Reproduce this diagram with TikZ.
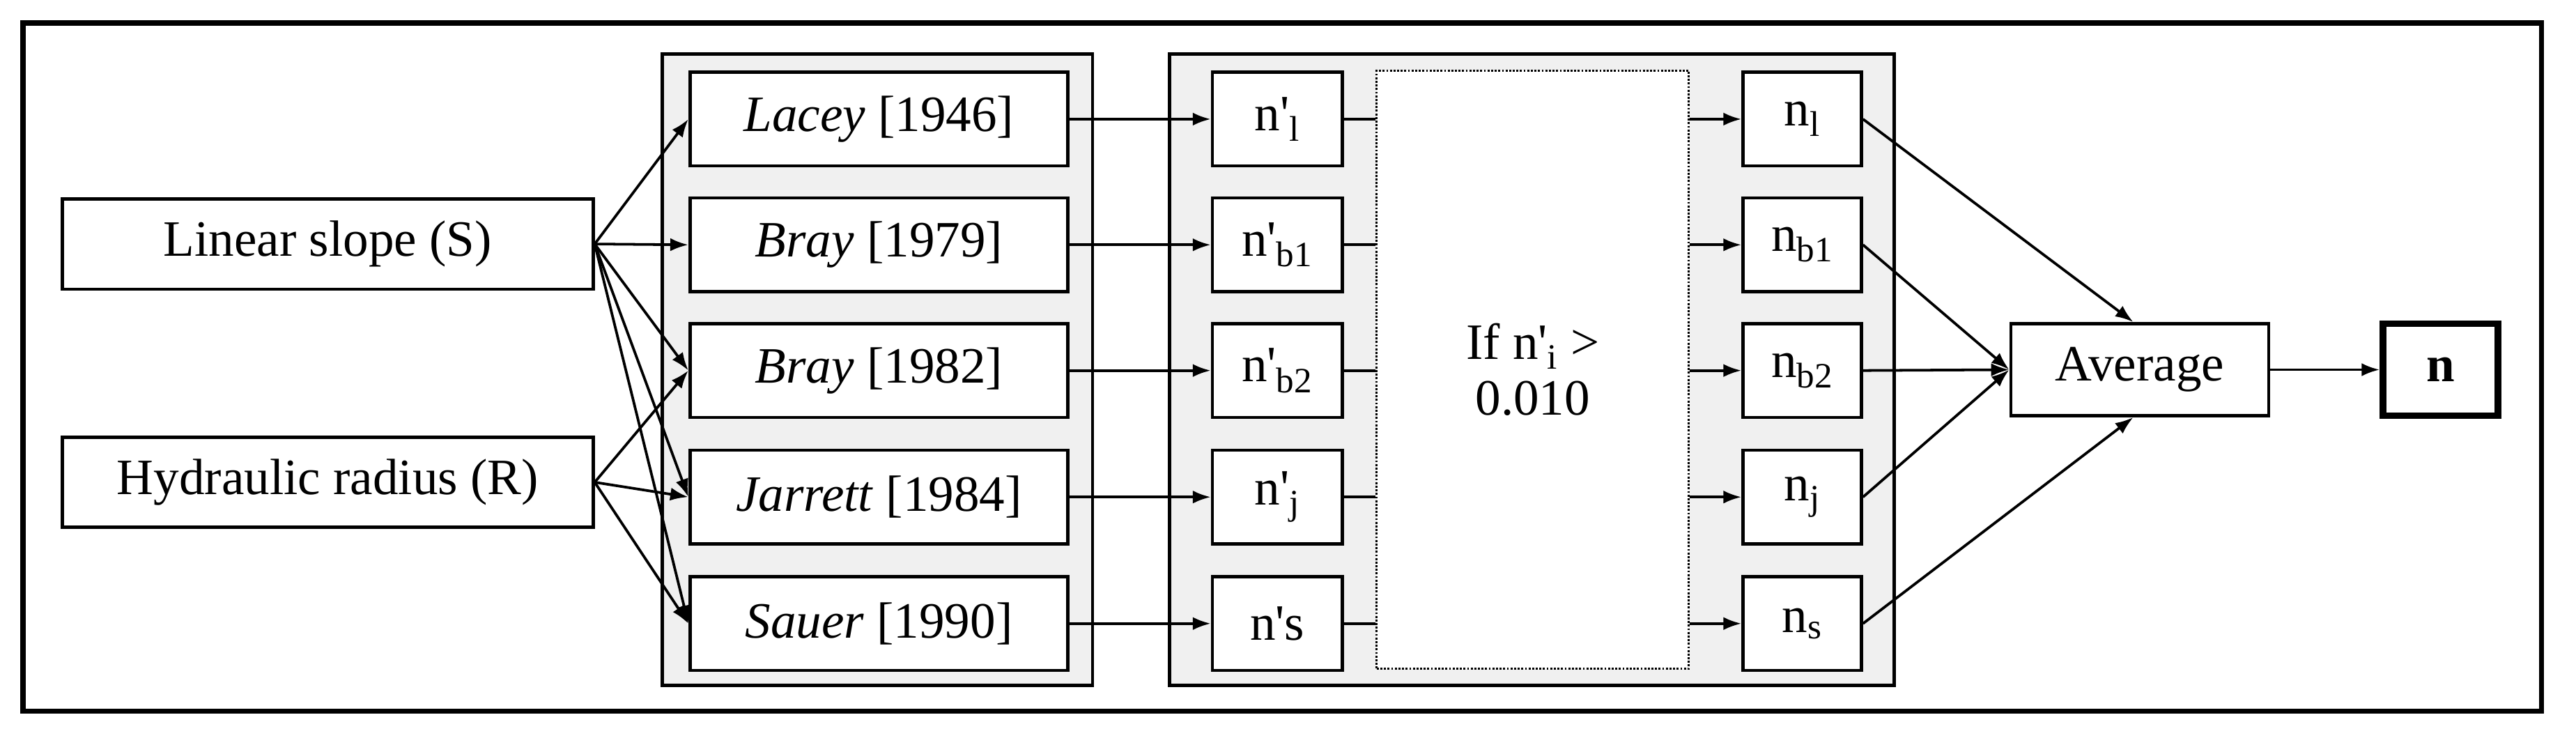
\documentclass[tikz,border=0pt]{standalone}
\usepackage{fontspec}
\setmainfont{Liberation Serif}
\usetikzlibrary{arrows.meta}
\newcommand{\pr}{\textquotesingle}
\begin{document}
\begin{tikzpicture}[x=1pt,y=-1pt,
  font=\fontsize{31}{34}\selectfont,
  box/.style={draw,line width=2pt,fill=white,inner sep=0pt},
  panel/.style={draw,line width=2pt,fill=black!6},
  arr/.style={-{Latex[length=11pt,width=8pt]},line width=1.6pt},
  ln/.style={line width=1.6pt}]
\useasboundingbox (0,0) rectangle (1568,449);
\draw[line width=3pt] (14,14) rectangle (1547,433);
\draw[panel] (403,33) rectangle (665,417);
\draw[panel] (712,33) rectangle (1153,417);
\node[box,minimum width=323pt,minimum height=55pt] (S) at (199.5,148.5) {Linear slope (S)};
\node[box,minimum width=323pt,minimum height=55pt] (R) at (199.5,293.5) {Hydraulic radius (R)};
\foreach \nm/\y/\t in {la/72.5/{\textit{Lacey} [1946]},b1/149/{\textit{Bray} [1979]},b2/225.5/{\textit{Bray} [1982]},ja/302.5/{\textit{Jarrett} [1984]},sa/379.5/{\textit{Sauer} [1990]}}{
  \node[box,minimum width=230pt,minimum height=57pt] (m\nm) at (535,\y) {\t};
}
\node[draw,densely dotted,line width=1.2pt,fill=white,minimum width=190pt,minimum height=364pt,align=center] (F) at (933,225) {If n\pr\textsubscript{i} >\\0.010};
\foreach \nm/\y/\t in {la/72.5/{n\pr\textsubscript{l}},b1/149/{n\pr\textsubscript{b1}},b2/225.5/{n\pr\textsubscript{b2}},ja/302.5/{n\pr\textsubscript{j}},sa/379.5/{n\pr s}}{
  \node[box,minimum width=79pt,minimum height=57pt] (p\nm) at (777.5,\y) {\t};
  \draw[arr] (m\nm.east) -- (p\nm.west);
  \draw[ln] (p\nm.east) -- (F.west |- p\nm.east);
}
\foreach \nm/\y/\t in {la/72.5/{n\textsubscript{l}},b1/149/{n\textsubscript{b1}},b2/225.5/{n\textsubscript{b2}},ja/302.5/{n\textsubscript{j}},sa/379.5/{n\textsubscript{s}}}{
  \node[box,minimum width=72pt,minimum height=57pt] (q\nm) at (1097,\y) {\t};
  \coordinate (c\nm) at (F.east |- q\nm.west);
  \draw[arr] (c\nm) -- (q\nm.west);
}
\node[box,minimum width=157pt,minimum height=56pt] (A) at (1302.5,225) {Average};
\node[draw,line width=4pt,fill=white,minimum width=70pt,minimum height=56pt,inner sep=0pt,font=\fontsize{31}{34}\selectfont\bfseries] (N) at (1485.5,225) {n};
\foreach \t in {la,b1,b2,ja,sa} \draw[arr] (S.east) -- (m\t.west);
\foreach \t in {b2,ja,sa} \draw[arr] (R.east) -- (m\t.west);
\draw[arr] (qla.east) -- ([xshift=-4pt]A.north);
\draw[arr] (qb1.east) -- (A.west);
\draw[arr] (qb2.east) -- (A.west);
\draw[arr] (qja.east) -- (A.west);
\draw[arr] (qsa.east) -- ([xshift=-4pt]A.south);
\draw[arr] (A.east) -- (N.west);
\end{tikzpicture}
\end{document}
